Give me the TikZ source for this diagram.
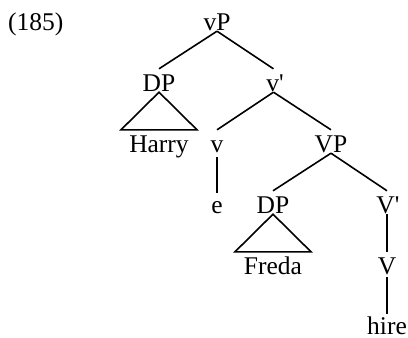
\documentclass[tikz,border=0pt]{standalone}
\usepackage{fontspec}
\setmainfont{Liberation Serif}
\begin{document}
\begin{tikzpicture}[x=1pt,y=-1pt,
  every node/.style={font=\fontsize{25.5}{30}\selectfont},
  lbl/.style={inner sep=0pt, text height=22pt, text depth=1pt, anchor=base},
  edge/.style={line width=1.6pt, line join=miter}]
\useasboundingbox (0,0) rectangle (408,338);
\node[anchor=base west, inner sep=0pt] (ex) at (8,30) {(185)};
\node[lbl] (vP) at (217,30) {vP};
\node[lbl] (DPa) at (159,91) {DP};
\node[lbl] (vbar) at (275,91) {v\textquotesingle};
\node[lbl] (Harry) at (159,152) {Harry};
\node[lbl] (v) at (217,152) {v};
\node[lbl] (VP) at (331,152) {VP};
\node[lbl] (e) at (217,213) {e};
\node[lbl] (DPb) at (273,213) {DP};
\node[lbl] (Vbar) at (388,213) {V\textquotesingle};
\node[lbl] (Freda) at (273,274) {Freda};
\node[lbl] (V) at (387,274) {V};
\node[lbl] (hire) at (387,334) {hire};
\coordinate (vbarb) at ([xshift=-1.5pt]vbar.south);
\coordinate (Vbarb) at ([xshift=-1pt]Vbar.south);
\draw[edge] (vP.south) -- (DPa.north);
\draw[edge] (vP.south) -- ([xshift=-1.5pt]vbar.north);
\draw[edge] (DPa.south) -- ([xshift=-38pt]Harry.north) -- ([xshift=38pt]Harry.north) -- cycle;
\draw[edge] (vbarb) -- (v.north);
\draw[edge] (vbarb) -- (VP.north);
\draw[edge] ([yshift=-4pt]v.south) -- ([yshift=-2pt]e.north);
\draw[edge] (VP.south) -- (DPb.north);
\draw[edge] (VP.south) -- ([xshift=-1pt]Vbar.north);
\draw[edge] (DPb.south) -- ([xshift=-38pt]Freda.north) -- ([xshift=38pt]Freda.north) -- cycle;
\draw[edge] (Vbarb) -- (V.north);
\draw[edge] ([yshift=-2pt]V.south) -- ([yshift=-2pt]hire.north);
\end{tikzpicture}
\end{document}
